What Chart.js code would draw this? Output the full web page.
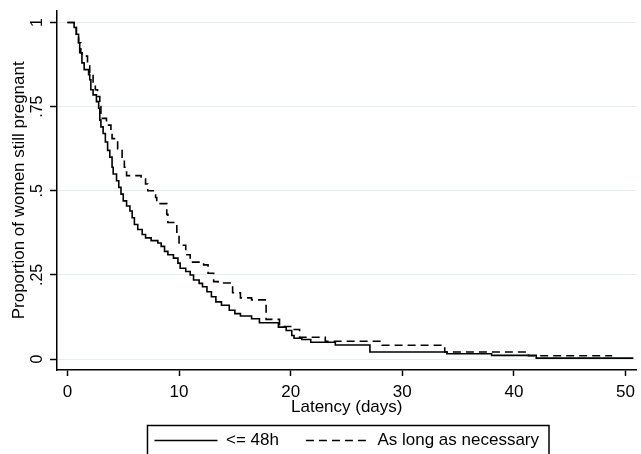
<!DOCTYPE html>
<html>
<head>
<meta charset="utf-8">
<script src="https://cdn.jsdelivr.net/npm/chart.js@4.4.1/dist/chart.umd.min.js"></script>
<style>
  html, body { margin: 0; padding: 0; background: #ffffff; }
  #c { display: block; }
</style>
</head>
<body>
<canvas id="c" width="641" height="454"></canvas>
<script>
// ---- Data (Kaplan-Meier estimates) ----
const seriesNames = ["<= 48h", "As long as necessary"];

const shortTimes = [0, 0.6, 0.8, 1.0, 1.1, 1.3, 1.5, 1.9, 2.0, 2.1, 2.3, 2.6, 2.8, 2.9, 3.0, 3.2, 3.4, 3.6, 3.8, 4.0,
  4.1, 4.4, 4.6, 4.8, 5.0, 5.3, 5.6, 5.8, 6.0, 6.3, 6.7, 7.0, 7.5, 8.1, 8.4, 8.7, 9.0, 9.5, 9.9, 10.1,
  10.6, 11.0, 11.3, 11.8, 12.1, 12.5, 12.9, 13.3, 13.8, 14.5, 15.0, 15.5, 16.5, 17.2, 18.9, 19.6, 20.1, 20.3, 21.0, 21.8,
  24.0, 27.1, 34.0, 38.0, 42.0, 50.7];
const shortSurv = [1, 0.985, 0.965, 0.94, 0.91, 0.88, 0.86, 0.845, 0.83, 0.80, 0.785, 0.765, 0.745, 0.71, 0.69, 0.67, 0.645, 0.62, 0.60, 0.57,
  0.55, 0.53, 0.51, 0.49, 0.47, 0.455, 0.44, 0.42, 0.40, 0.385, 0.37, 0.36, 0.352, 0.345, 0.335, 0.32, 0.31, 0.30, 0.285, 0.27,
  0.26, 0.25, 0.235, 0.225, 0.215, 0.20, 0.185, 0.17, 0.16, 0.145, 0.135, 0.128, 0.12, 0.108, 0.095, 0.085, 0.07, 0.062, 0.058, 0.05,
  0.042, 0.021, 0.016, 0.011, 0.003, 0.003];

const longTimes = [0, 0.6, 0.8, 1.0, 1.2, 1.3, 1.8, 2.0, 2.3, 2.5, 2.7, 2.9, 3.0, 3.5, 3.9, 4.0, 4.5, 4.9, 5.1, 5.3,
  6.6, 7.0, 7.2, 7.9, 8.0, 8.9, 9.0, 9.8, 10.0, 10.6, 11.0, 12.2, 12.6, 13.1, 13.5, 14.8, 15.5, 16.5, 17.8, 19.0,
  20.0, 20.8, 23.1, 28.2, 33.8, 41.3, 48.8];
const longSurv = [1, 0.985, 0.965, 0.94, 0.91, 0.90, 0.88, 0.85, 0.82, 0.80, 0.78, 0.75, 0.715, 0.695, 0.675, 0.655, 0.625, 0.60, 0.57, 0.545,
  0.535, 0.52, 0.50, 0.48, 0.462, 0.43, 0.406, 0.37, 0.338, 0.31, 0.288, 0.28, 0.255, 0.23, 0.226, 0.197, 0.182, 0.176, 0.118, 0.097,
  0.088, 0.065, 0.053, 0.041, 0.021, 0.01, 0.01];

const xTickValues = [0, 10, 20, 30, 40, 50];
const yTickValues = [0, 0.25, 0.5, 0.75, 1];
const yTickLabels = ["0", ".25", ".5", ".75", "1"];
const xTitle = "Latency (days)";
const yTitle = "Proportion of women still pregnant";

// ---- Chart ----
const FONT = "'Liberation Sans', Arial, Helvetica, sans-serif";
const LINE_W = 1.6;
const toPoints = (xs, ys) => xs.map((x, i) => ({ x: x, y: ys[i] }));

const legendFrame = {
  id: 'legendFrame',
  afterDraw(chart) {
    const lg = chart.legend;
    if (!lg || !lg.legendHitBoxes || !lg.legendHitBoxes.length) return;
    const hb = lg.legendHitBoxes;
    const first = hb[0], last = hb[hb.length - 1];
    const left = first.left - 7;
    const right = last.left + last.width + 10;
    const top = first.top + first.height / 2 - 15;
    const ctx = chart.ctx;
    ctx.save();
    ctx.strokeStyle = '#000';
    ctx.lineWidth = 1.5;
    ctx.setLineDash([]);
    ctx.strokeRect(left, top, right - left, chart.height + 20 - top);
    ctx.restore();
  }
};

new Chart(document.getElementById('c'), {
  type: 'line',
  data: {
    datasets: [
      {
        label: seriesNames[0],
        data: toPoints(shortTimes, shortSurv),
        borderColor: '#000',
        backgroundColor: '#000',
        borderWidth: LINE_W,
        stepped: 'before',
        pointRadius: 0,
        fill: false
      },
      {
        label: seriesNames[1],
        data: toPoints(longTimes, longSurv),
        borderColor: '#000',
        backgroundColor: '#000',
        borderWidth: LINE_W,
        borderDash: [8, 5],
        stepped: 'before',
        pointRadius: 0,
        fill: false
      }
    ]
  },
  options: {
    responsive: false,
    animation: false,
    layout: { padding: { top: 8, right: 0, left: 0, bottom: -2 } },
    plugins: {
      tooltip: { enabled: false },
      legend: {
        position: 'bottom',
        fullSize: false,
        maxHeight: 51,
        labels: {
          usePointStyle: true,
          pointStyle: 'line',
          pointStyleWidth: 63,
          padding: 27,
          color: '#000',
          font: { family: FONT, size: 17 },
          generateLabels: (chart) => {
            const items = Chart.defaults.plugins.legend.labels.generateLabels(chart);
            items.forEach((it) => {
              const ds = chart.data.datasets[it.datasetIndex];
              it.lineDash = ds.borderDash || [];
              it.lineWidth = ds.borderWidth;
              it.strokeStyle = ds.borderColor;
              it.fillStyle = ds.borderColor;
              it.pointStyle = 'line';
            });
            return items;
          }
        }
      }
    },
    scales: {
      x: {
        type: 'linear',
        min: -0.933,
        max: 50.98,
        afterBuildTicks: (s) => { s.ticks = xTickValues.map(v => ({ value: v })); },
        afterFit: (s) => { s.height = 35; },
        ticks: {
          color: '#000',
          font: { family: FONT, size: 17 },
          padding: 6,
          maxRotation: 0,
          autoSkip: false,
          callback: (v) => String(v)
        },
        grid: {
          drawOnChartArea: false,
          drawTicks: true,
          tickLength: 6,
          tickColor: '#000',
          tickWidth: 1.5
        },
        border: { display: true, color: '#000', width: 1.5 },
        title: {
          display: true,
          text: xTitle,
          color: '#000',
          font: { family: FONT, size: 17 },
          padding: { top: 0, bottom: -12.5 }
        }
      },
      y: {
        type: 'linear',
        min: -0.0324,
        max: 1.0353,
        afterBuildTicks: (s) => { s.ticks = yTickValues.map(v => ({ value: v })); },
        afterFit: (s) => { s.width = 57; },
        ticks: {
          color: '#000',
          font: { family: FONT, size: 16 },
          padding: 1,
          minRotation: 90,
          maxRotation: 90,
          crossAlign: 'center',
          autoSkip: false,
          callback: (v, i) => yTickLabels[i]
        },
        grid: {
          drawOnChartArea: true,
          color: '#e3edf0',
          lineWidth: 1,
          drawTicks: true,
          tickLength: 7,
          tickColor: '#000',
          tickWidth: 1.5
        },
        border: { display: true, color: '#000', width: 1.5 },
        title: {
          display: true,
          text: yTitle,
          color: '#000',
          font: { family: FONT, size: 17 },
          padding: { top: 9, bottom: 0 }
        }
      }
    }
  },
  plugins: [legendFrame]
});
</script>
</body>
</html>
